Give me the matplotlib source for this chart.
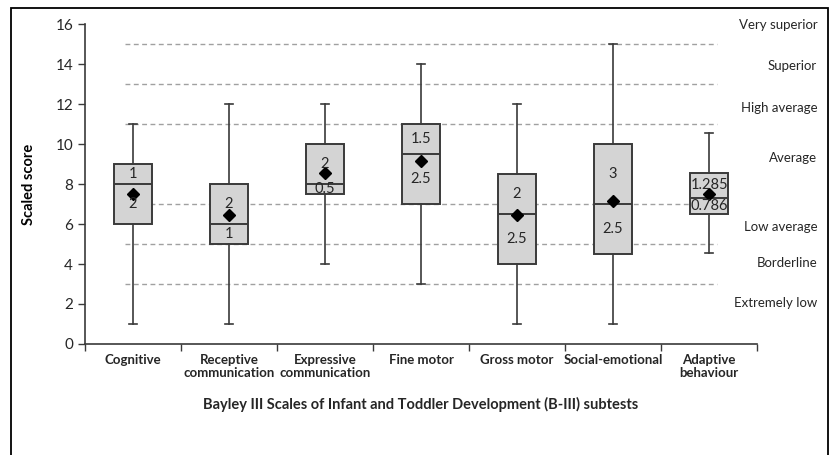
import matplotlib
matplotlib.use("Agg")
import matplotlib.pyplot as plt
from matplotlib.patches import Rectangle

plt.rcParams['font.family'] = ['Lato', 'DejaVu Sans']

subtests = ["Cognitive", "Receptive\ncommunication", "Expressive\ncommunication",
            "Fine motor", "Gross motor", "Social-emotional", "Adaptive\nbehaviour"]
mins = [1, 1, 4, 3, 1, 1, 4.57]
q1 = [6, 5, 7.5, 7, 4, 4.5, 6.5]
medians = [8, 6, 8, 9.5, 6.5, 7, 7.286]
q3 = [9, 8, 10, 11, 8.5, 10, 8.571]
maxs = [11, 12, 12, 14, 12, 15, 10.57]
means = [7.5, 6.45, 8.55, 9.15, 6.45, 7.15, 7.5]
upper_labels = ["1", "2", "2", "1.5", "2", "3", "1.285"]
lower_labels = ["2", "1", "0.5", "2.5", "2.5", "2.5", "0.786"]

bands = [3, 5, 7, 11, 13, 15]
band_names = ["Very superior", "Superior", "High average", "Average",
              "Low average", "Borderline", "Extremely low"]
band_label_y = [15.95, 13.9, 11.8, 9.3, 5.85, 4.05, 2.05]

edge = "#3a3a3a"
fig = plt.figure(figsize=(8.32, 4.55), dpi=100)
fig.patches.append(Rectangle((0.013, -0.02), 0.982, 1.002, transform=fig.transFigure,
                             fill=False, edgecolor="black", linewidth=1.3))
ax = fig.add_axes([0.102, 0.244, 0.808, 0.703])

stats = []
for i in range(len(subtests)):
    stats.append(dict(whislo=mins[i], q1=q1[i], med=medians[i], q3=q3[i],
                      whishi=maxs[i], mean=means[i], fliers=[]))

for y in bands:
    ax.plot([-0.083, 6.083], [y, y], ls=(0, (3.5, 2.5)), color="#a0a0a0", lw=1, zorder=1)

pos = list(range(len(subtests)))
ax.bxp(stats, positions=pos, widths=0.4, showmeans=True, patch_artist=True,
       boxprops=dict(facecolor="#d4d4d4", edgecolor=edge, linewidth=1.4),
       medianprops=dict(color=edge, linewidth=1.4),
       whiskerprops=dict(color=edge, linewidth=1.2),
       capprops=dict(color=edge, linewidth=1.2),
       capwidths=0.09,
       meanprops=dict(marker="D", markerfacecolor="black", markeredgecolor="black", markersize=6),
       zorder=3)

for i in pos:
    ax.text(i, (q3[i] + medians[i]) / 2, upper_labels[i], ha="center", va="center",
            fontsize=10.5, color="#262626", zorder=4)
    ax.text(i, (medians[i] + q1[i]) / 2, lower_labels[i], ha="center", va="center",
            fontsize=10.5, color="#262626", zorder=4)

for name, y in zip(band_names, band_label_y):
    ax.text(7.125, y, name, ha="right", va="center", fontsize=9.5, color="#262626", clip_on=False)

ax.set_xlim(-0.5, 6.5)
ax.set_ylim(0, 16)
ax.set_yticks(range(0, 17, 2))
ax.set_xticks(pos)
ax.set_xticklabels(subtests, fontsize=9.5, fontweight="bold", color="#262626", linespacing=1.1)
ax.set_xticks([p - 0.5 for p in pos] + [6.5], minor=True)
ax.tick_params(axis="x", which="major", length=0, pad=7)
ax.tick_params(axis="x", which="minor", length=5, width=1, color=edge)
ax.tick_params(axis="y", length=5, width=1, color=edge, labelsize=11, labelcolor="#262626")
for s in ["top", "right"]:
    ax.spines[s].set_visible(False)
for s in ["left", "bottom"]:
    ax.spines[s].set_color(edge)
    ax.spines[s].set_linewidth(1.2)

ax.set_ylabel("Scaled score", fontsize=10.5, fontweight="bold", labelpad=14)
fig.text(0.505, 0.11, "Bayley III Scales of Infant and Toddler Development (B-III) subtests",
         ha="center", va="center", fontsize=10.5, fontweight="bold", color="#262626")

fig.savefig("out.png", dpi=100)
